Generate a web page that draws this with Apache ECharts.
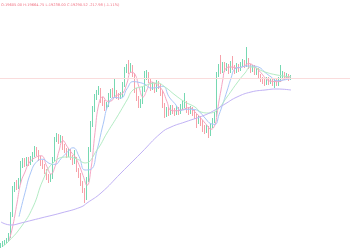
<!DOCTYPE html>
<html>
<head>
<meta charset="utf-8">
<script src="https://cdn.jsdelivr.net/npm/echarts@6/dist/echarts.min.js"></script>
<style>html,body{margin:0;padding:0;background:#fff;}#c{width:350px;height:250px;}</style>
</head>
<body>
<div id="c"></div>
<script>
const headerText = 'O:19605.00 H:19664.75 L:19238.00 C:19290.52 -217.98 (-1.11%)';
const lastPrice = 19376;
const slots = Array.from({length: 175}, (_, i) => 'D' + (i + 1));

const opens = [18032,18040,18056,18064,18080,18112,18280,18480,18528,18504,
18544,18680,18704,18688,18720,18696,18720,18760,18800,18776,
18736,18696,18672,18632,18592,18560,18584,18720,18880,18904,
18872,18896,18824,18800,18760,18792,18744,18704,18728,18640,
18600,18536,18480,18416,18560,18800,19000,19120,19216,19256,
19280,19200,19176,19136,19160,19232,19256,19240,19264,19232,
19224,19240,19320,19440,19456,19432,19464,19400,19280,19216,
19160,19184,19280,19376,19408,19360,19296,19320,19280,19336,
19312,19256,19160,19080,19120,19096,19136,19112,19096,19128,
19104,19136,19160,19176,19120,19104,19128,19096,19072,19032,
19056,19016,18984,18952,18976,18928,18992,19032,19080,19400,
19456,19432,19480,19448,19472,19432,19488,19464,19432,19472,
19448,19480,19504,19480,19520,19472,19440,19464,19424,19440,
19392,19368,19352,19336,19368,19344,19360,19336,19352,19328,
19360,19400,19408,19376,19392,19376];
const closes = [18040,18056,18064,18080,18112,18280,18480,18512,18504,18544,
18680,18704,18688,18720,18696,18720,18760,18800,18776,18736,
18696,18672,18632,18592,18560,18584,18720,18880,18904,18872,
18896,18824,18800,18760,18792,18744,18704,18728,18640,18600,
18536,18480,18416,18560,18800,19000,19120,19216,19256,19280,
19200,19176,19136,19160,19232,19256,19240,19264,19232,19224,
19240,19320,19440,19456,19432,19464,19400,19280,19216,19160,
19184,19280,19376,19408,19360,19296,19320,19280,19336,19312,
19256,19160,19080,19120,19096,19136,19112,19096,19128,19104,
19136,19160,19176,19120,19104,19128,19096,19072,19032,19056,
19016,18984,18952,18976,18928,18992,19032,19080,19400,19456,
19432,19480,19448,19472,19432,19488,19464,19432,19472,19448,
19480,19504,19480,19520,19472,19440,19464,19424,19440,19392,
19368,19352,19336,19368,19344,19360,19336,19352,19328,19360,
19400,19408,19376,19392,19376,19384];
const lows = [18016,18024,18040,18048,18064,18096,18264,18464,18480,18488,
18528,18656,18664,18672,18672,18680,18704,18744,18752,18712,
18672,18648,18608,18560,18536,18544,18568,18704,18864,18848,
18856,18800,18776,18736,18744,18720,18680,18688,18624,18576,
18512,18456,18376,18400,18544,18784,18984,19104,19200,19240,
19176,19152,19112,19120,19144,19216,19216,19224,19208,19200,
19208,19224,19304,19416,19408,19416,19384,19256,19192,19136,
19136,19168,19264,19360,19336,19272,19280,19256,19264,19288,
19232,19136,19056,19064,19072,19080,19088,19072,19080,19080,
19088,19120,19136,19096,19080,19088,19072,19048,18976,19008,
18992,18944,18928,18936,18896,18912,18976,19016,19064,19384,
19408,19416,19424,19432,19408,19416,19440,19408,19416,19424,
19432,19464,19456,19464,19448,19416,19424,19400,19400,19368,
19344,19328,19312,19320,19320,19328,19312,19296,19312,19312,
19344,19376,19360,19368,19352,19360];
const highs = [18056,18072,18080,18096,18136,18304,18512,18544,18560,18576,
18712,18736,18736,18744,18744,18752,18784,18832,18824,18800,
18752,18720,18688,18648,18608,18608,18744,18904,18936,18928,
18920,18912,18848,18816,18816,18808,18760,18800,18744,18656,
18616,18552,18496,18584,18824,19032,19152,19248,19280,19312,
19296,19224,19200,19184,19256,19288,19296,19376,19280,19256,
19264,19344,19464,19488,19520,19496,19480,19416,19296,19232,
19208,19304,19432,19440,19424,19376,19344,19336,19360,19352,
19328,19272,19176,19144,19144,19160,19160,19136,19152,19144,
19168,19192,19256,19192,19144,19152,19144,19120,19088,19072,
19072,19040,19000,19000,18992,19008,19056,19104,19424,19488,
19560,19504,19504,19496,19488,19512,19552,19480,19496,19488,
19504,19528,19520,19624,19536,19488,19480,19480,19456,19456,
19408,19384,19368,19384,19384,19376,19376,19368,19368,19384,
19480,19432,19424,19416,19408,19400];

const ma5 = [[4,18072],[6,18200],[8,18376],[10,18544],[12,18624],[14,18696],[17,18739],[20,18754],[23,18666],[25,18608],[27,18667],[29,18792],[31,18875],[33,18830],[35,18784],[37,18746],[39,18683],[41,18597],[43,18518],[45,18651],[47,18939],[49,19174],[51,19226],[53,19190],[55,19192],[57,19230],[59,19243],[61,19256],[63,19336],[65,19422],[67,19406],[69,19304],[71,19224],[73,19282],[75,19344],[77,19333],[79,19309],[81,19269],[83,19186],[85,19118],[88,19114],[91,19125],[94,19139],[97,19104],[100,19054],[103,18997],[105,18966],[107,19002],[108,19086],[109,19192],[110,19280],[111,19370],[112,19443],[115,19464],[118,19458],[121,19467],[124,19491],[127,19464],[130,19418],[133,19363],[136,19349],[139,19347],[142,19374],[145,19387]];
const ma10 = [[9,18267],[12,18458],[15,18625],[18,18709],[21,18726],[24,18694],[27,18685],[30,18731],[33,18780],[36,18818],[39,18749],[42,18640],[45,18646],[48,18798],[51,19002],[54,19178],[57,19220],[60,19216],[63,19290],[66,19347],[69,19341],[72,19325],[75,19296],[78,19300],[81,19310],[84,19226],[87,19170],[90,19117],[93,19126],[96,19125],[99,19108],[102,19056],[105,19010],[107,19005],[109,19082],[111,19173],[113,19272],[115,19372],[117,19450],[120,19462],[123,19472],[126,19471],[129,19462],[132,19421],[135,19385],[138,19354],[141,19359],[145,19371]];
const ma30 = [[1,18032],[3,18056],[10,18184],[16,18344],[21,18560],[26,18696],[33,18744],[38,18728],[42,18696],[48,18800],[53,18936],[58,19064],[63,19200],[66,19280],[70,19304],[78,19336],[82,19304],[87,19240],[92,19184],[97,19144],[100,19104],[104,19096],[108,19120],[113,19224],[118,19336],[122,19416],[125,19464],[132,19424],[138,19400],[145,19384]];
const ma120 = [[0,18224],[5,18200],[10,18216],[16,18240],[20,18256],[30,18296],[40,18344],[43,18376],[50,18456],[60,18616],[70,18776],[80,18936],[85,18984],[92,19024],[102,19080],[107,19120],[112,19168],[118,19224],[125,19264],[132,19280],[138,19288],[145,19280]];

const candles = opens.map((o, i) => [o, closes[i], lows[i], highs[i]]);

function maSeries(name, data, color) {
  return {
    name: name, type: 'line', data: data, smooth: true, showSymbol: false,
    symbol: 'none', silent: true,
    lineStyle: {width: 1, color: color}
  };
}

const chart = echarts.init(document.getElementById('c'), null, {renderer: 'canvas'});
chart.setOption({
  animation: false,
  backgroundColor: '#ffffff',
  title: {
    text: headerText, left: 1, top: 3, padding: 0,
    textStyle: {fontSize: 3.6, fontWeight: 'normal', color: '#f07080', fontFamily: 'DejaVu Sans'}
  },
  grid: {left: 0, right: 0, top: 0, bottom: 0},
  xAxis: {type: 'category', data: slots, show: false, boundaryGap: true},
  yAxis: {type: 'value', min: 18000, max: 20000, show: false, splitLine: {show: false}},
  series: [
    {
      name: 'K', type: 'candlestick', data: candles, barWidth: '55%',
      itemStyle: {color: '#3cc892', color0: '#f27a86', borderColor: '#3cc892', borderColor0: '#f27a86', borderWidth: 1, opacity: 0.7},
      markLine: {
        symbol: 'none', silent: true, label: {show: false},
        lineStyle: {color: '#fadcdc', type: 'solid', width: 1},
        data: [{yAxis: lastPrice}]
      }
    },
    maSeries('MA5', ma5, '#f5a6c4'),
    maSeries('MA10', ma10, '#a9c6f8'),
    maSeries('MA30', ma30, '#b3ecc4'),
    maSeries('MA120', ma120, '#c1b2f5')
  ]
});
</script>
</body>
</html>
